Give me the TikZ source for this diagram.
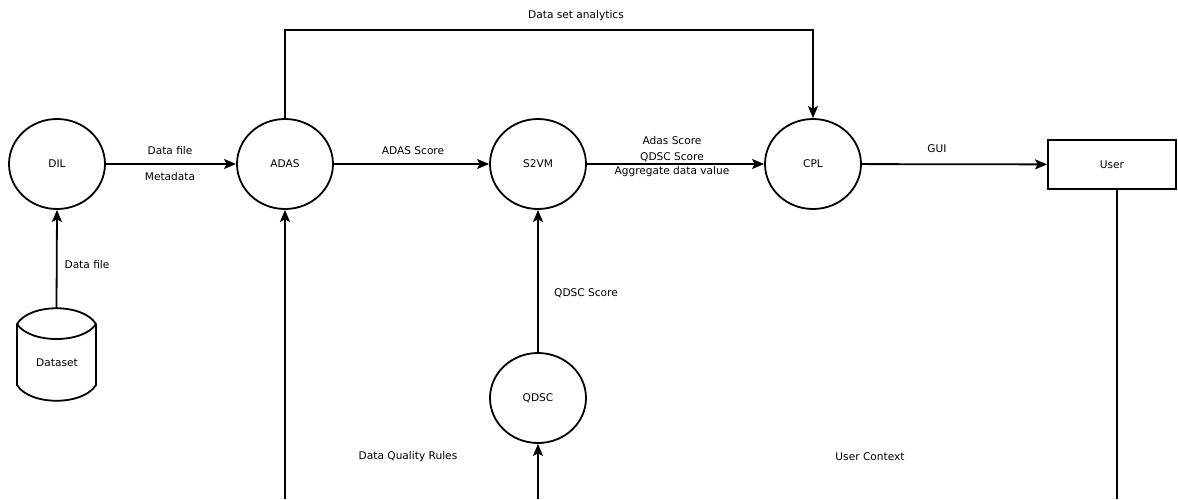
\documentclass[tikz,border=0pt]{standalone}
\usepackage{fontspec}
\setmainfont{DejaVu Sans}
\usetikzlibrary{arrows.meta,shapes.geometric}
\begin{document}
\begin{tikzpicture}[x=1pt,y=-1pt,
  txt/.style={font=\fontsize{10.6}{12}\selectfont},
  proc/.style={draw, ellipse, line width=1.8pt, minimum width=96pt, minimum height=90pt, inner sep=0pt, txt},
  lbl/.style={txt, inner sep=1pt},
  flow/.style={line width=1.8pt, -{Stealth[length=12pt,width=10pt,inset=2.5pt]}},
  wire/.style={line width=1.8pt}]
\useasboundingbox (0,0) rectangle (1178,499);
% processes
\node[proc] (dil)  at (57,164)  {DIL};
\node[proc] (adas) at (285,164) {ADAS};
\node[proc] (s2vm) at (538,164) {S2VM};
\node[proc] (cpl)  at (813,164) {CPL};
\node[proc] (qdsc) at (538,398) {QDSC};
\node[draw, line width=1.8pt, minimum width=128pt, minimum height=49pt, inner sep=0pt, txt] (user) at (1112,164.5) {User};
% dataset store
\node[minimum width=79pt, minimum height=93pt, inner sep=0pt] (ds) at (56.5,354.5) {};
\draw[wire] (17,324) .. controls (30,303) and (83,303) .. (96,324) -- (96,385) .. controls (83,406) and (30,406) .. (17,385) -- cycle;
\draw[wire] (17,324) .. controls (30,344) and (83,344) .. (96,324);
\node[lbl] (dstxt) at (57,363) {Dataset};
% coordinates
\coordinate (topL) at (285,30);
\coordinate (b1) at (285,499);
\coordinate (b2) at (538,499);
\coordinate (ub) at (1117,499);
% connectors
\draw[flow] (ds.north) -- (dil.south);
\draw[flow] (dil) -- (adas);
\draw[flow] (adas) -- (s2vm);
\draw[flow] (s2vm) -- (cpl);
\draw[flow] (cpl) -- (user);
\draw[flow] (qdsc) -- (s2vm);
\draw[flow] (adas.north) -- (topL) -| (cpl.north);
\draw[flow] (b1) -- (adas.south);
\draw[flow] (b2) -- (qdsc.south);
\draw[wire] (user.south -| ub) -- (ub);
% labels
\node[lbl] (l1) at (576,16) {Data set analytics};
\node[lbl] (l2) at (170,151) {Data file};
\node[lbl] (l3) at (170,177) {Metadata};
\node[lbl] (l4) at (413,151) {ADAS Score};
\node[lbl] (l5) at (672,141) {Adas Score};
\node[lbl] (l6) at (672,157) {QDSC Score};
\node[lbl] (l7) at (672,172) {Aggregate data value};
\node[lbl] (l8) at (937,149) {GUI};
\node[lbl] (l9) at (586,293) {QDSC Score};
\node[lbl] (l10) at (87,265) {Data file};
\node[lbl] (l11) at (408,457) {Data Quality Rules};
\node[lbl] (l12) at (870,457) {User Context};
\end{tikzpicture}
\end{document}
